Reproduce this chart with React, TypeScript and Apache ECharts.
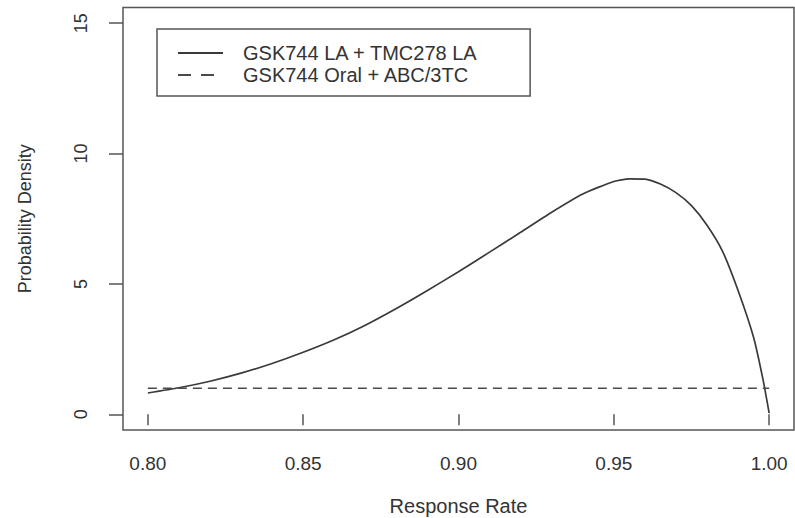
import React, { useEffect, useRef } from "react";
import * as echarts from "echarts";

const responseRate = [
  0.8, 0.81, 0.82, 0.83, 0.84, 0.85, 0.86, 0.87, 0.88, 0.89, 0.9, 0.91, 0.92,
  0.93, 0.94, 0.95, 0.955, 0.96, 0.965, 0.97, 0.975, 0.98, 0.985, 0.99, 0.995,
  0.998, 1.0,
];
const densityLA = [
  0.82, 1.02, 1.27, 1.58, 1.95, 2.38, 2.86, 3.42, 4.06, 4.75, 5.47, 6.22, 6.98,
  7.75, 8.45, 8.93, 9.03, 9.02, 8.83, 8.5, 8.0, 7.25, 6.25, 4.75, 2.95, 1.35,
  0.05,
];
const oralRate = [0.8, 1.0];
const densityOral = [1.0, 1.0];

const xTicks = [0.8, 0.85, 0.9, 0.95, 1.0];
const yTicks = [0, 5, 10, 15];
const seriesNames = ["GSK744 LA + TMC278 LA", "GSK744 Oral + ABC/3TC"];

const FONT = "'Liberation Sans', Arial, Helvetica, sans-serif";
const TEXT = "#333";
const LINE = "#555";

export default function App() {
  const ref = useRef<HTMLDivElement>(null);
  useEffect(() => {
    if (!ref.current) return;
    const chart = echarts.init(ref.current, null, { renderer: "svg" });
    chart.setOption({
      animation: false,
      backgroundColor: "#fff",
      textStyle: { fontFamily: FONT, color: TEXT },
      grid: {
        left: 123,
        right: 1,
        top: 7.5,
        bottom: 88,
        show: true,
        borderColor: LINE,
        borderWidth: 1.5,
        containLabel: false,
        outerBoundsMode: "none",
      },
      legend: {
        orient: "vertical",
        left: 157,
        top: 29,
        padding: [14, 52, 11, 20],
        itemGap: 2,
        itemWidth: 45,
        itemHeight: 20,
        borderColor: LINE,
        borderWidth: 1.5,
        borderRadius: 0,
        data: [
          { name: seriesNames[0] },
          { name: seriesNames[1], lineStyle: { type: [13, 10] } },
        ],
        itemStyle: { opacity: 0 },
        textStyle: {
          fontFamily: FONT,
          fontSize: 20,
          color: TEXT,
          padding: [0, 0, 0, 15],
        },
      },
      xAxis: {
        type: "value",
        min: 0.792,
        max: 1.008,
        name: "Response Rate",
        nameLocation: "middle",
        nameGap: 66,
        nameTextStyle: { fontFamily: FONT, fontSize: 20, color: TEXT },
        axisLine: { show: false },
        splitLine: { show: false },
        axisTick: {
          show: true,
          length: 11,
          customValues: xTicks,
          lineStyle: { color: LINE, width: 1.5 },
        },
        axisLabel: {
          customValues: xTicks,
          margin: 24,
          fontFamily: FONT,
          fontSize: 19,
          color: TEXT,
          formatter: (v: number) => v.toFixed(2),
        },
      },
      yAxis: {
        type: "value",
        min: -0.6,
        max: 15.6,
        name: "Probability Density",
        nameLocation: "middle",
        nameGap: 89,
        nameTextStyle: { fontFamily: FONT, fontSize: 18, color: TEXT },
        axisLine: { show: false },
        splitLine: { show: false },
        axisTick: {
          show: true,
          length: 14,
          customValues: yTicks,
          lineStyle: { color: LINE, width: 1.5 },
        },
        axisLabel: {
          customValues: yTicks,
          rotate: 90,
          margin: 33,
          fontFamily: FONT,
          fontSize: 18,
          color: TEXT,
          formatter: (v: number) => String(v),
        },
      },
      series: [
        {
          name: seriesNames[0],
          type: "line",
          data: responseRate.map((x, i) => [x, densityLA[i]]),
          symbol: "none",
          smooth: 0.2,
          lineStyle: { color: "#3a3a3a", width: 1.7, type: "solid" },
          itemStyle: { color: "#3a3a3a" },
        },
        {
          name: seriesNames[1],
          type: "line",
          data: oralRate.map((x, i) => [x, densityOral[i]]),
          symbol: "none",
          lineStyle: { color: "#4a4a4a", width: 1.5, type: [9, 6] },
          itemStyle: { color: "#4a4a4a" },
        },
      ],
    });
    return () => chart.dispose();
  }, []);
  return (
    <div
      ref={ref}
      style={{ position: "fixed", left: 0, top: 0, width: 795, height: 518, background: "#fff" }}
    />
  );
}
